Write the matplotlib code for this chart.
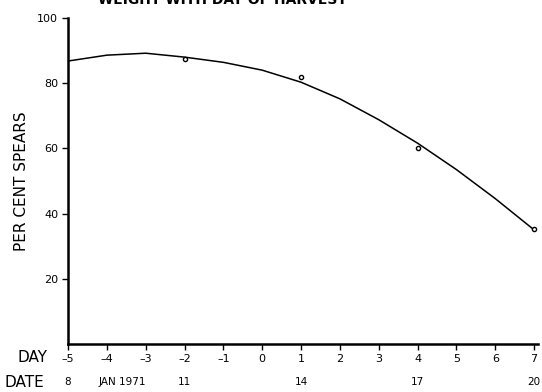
import matplotlib
matplotlib.use('Agg')
import matplotlib.pyplot as plt

# observed points (day of harvest, per cent spears)
days = [-2, 1, 4, 7]
pct = [87.3, 81.8, 60.0, 35.3]

# hand-drawn fitted curve
curve_days = [-5, -4, -3, -2, -1, 0, 1, 2, 3, 4, 5, 6, 7]
curve_pct = [86.8, 88.6, 89.2, 88.0, 86.4, 84.0, 80.3, 75.2, 68.8, 61.6, 53.5, 44.6, 35.0]

day_ticks = list(range(-5, 8))
date_pos = [-5, -3.6, -2, 1, 4, 7]
date_labels = ['8', 'JAN 1971', '11', '14', '17', '20']
y_ticks = [20, 40, 60, 80, 100]

fig = plt.figure(figsize=(5.42, 3.92), dpi=100)
ax = fig.add_axes([68/542, 48/392, 470/542, 326/392])

ax.plot(curve_days, curve_pct, color='black', lw=1.1)
ax.plot(days, pct, 'o', ms=3, mfc='white', mec='black', mew=1)

ax.set_xlim(-5, 7.1)
ax.set_ylim(0, 100)
ax.spines['top'].set_visible(False)
ax.spines['right'].set_visible(False)
ax.spines['left'].set_linewidth(1.8)
ax.spines['bottom'].set_linewidth(1.8)

ax.set_yticks(y_ticks)
ax.set_yticklabels([str(v) for v in y_ticks], fontsize=8)
ax.set_xticks(day_ticks)
ax.set_xticklabels([str(d).replace('-', '\u2013') for d in day_ticks], fontsize=8)
ax.tick_params(axis='both', direction='out', length=4, width=1, pad=3)

ax.set_ylabel('PER CENT SPEARS', fontsize=11, labelpad=6)

# DAY / DATE row labels
trans = ax.get_xaxis_transform()
ax.text(-5.52, -0.04, 'DAY', transform=trans, fontsize=11, ha='right', va='center', clip_on=False)
ax.text(-5.62, -0.117, 'DATE', transform=trans, fontsize=11, ha='right', va='center', clip_on=False)
for p, lab in zip(date_pos, date_labels):
    ax.text(p, -0.117, lab, transform=trans, fontsize=7.5, ha='center', va='center', clip_on=False)

# title, cut off at the top in the original scan
fig.text(222/542, 1.0, 'WEIGHT WITH DAY OF HARVEST', fontsize=10, fontweight='bold',
         ha='center', va='center')

plt.savefig('out.png', dpi=100)
